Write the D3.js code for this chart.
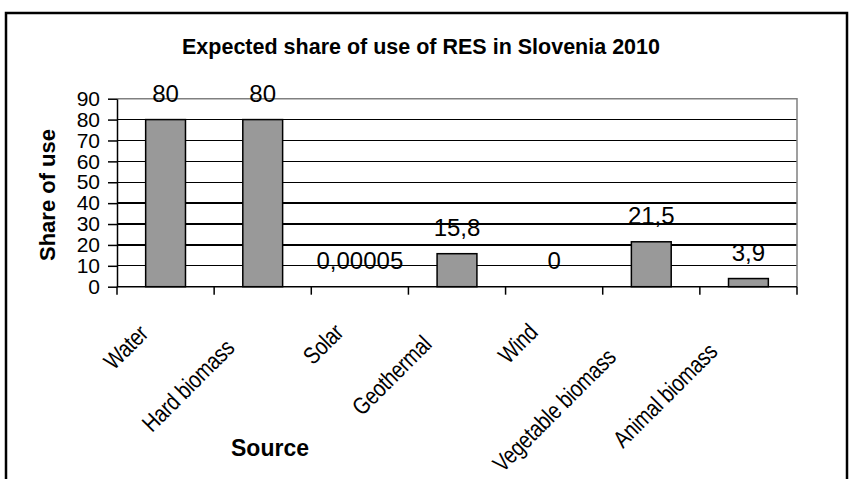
<!DOCTYPE html>
<html>
<head>
<meta charset="utf-8">
<script src="https://cdn.jsdelivr.net/npm/d3@7"></script>
<style>
  html, body { margin: 0; padding: 0; background: #fff; }
  svg { display: block; font-family: "Liberation Sans", Arial, sans-serif; }
</style>
</head>
<body>
<svg id="chart" width="851" height="479"></svg>
<script>
// Expected share of use of renewable energy sources (RES), Slovenia 2010
const categories = ["Water", "Hard biomass", "Solar", "Geothermal", "Wind", "Vegetable biomass", "Animal biomass"];
const shares = [80, 80, 0.00005, 15.8, 0, 21.5, 3.9];
const valueLabels = ["80", "80", "0,00005", "15,8", "0", "21,5", "3,9"];
const yTicks = [0, 10, 20, 30, 40, 50, 60, 70, 80, 90];

const titleText = "Expected share of use of RES in Slovenia 2010";
const yTitle = "Share of use";
const xTitle = "Source";

const svg = d3.select("#chart");

// outer chart frame
svg.append("rect")
  .attr("x", 6).attr("y", 13)
  .attr("width", 841).attr("height", 480)
  .attr("fill", "#fff").attr("stroke", "#000").attr("stroke-width", 2.5);

const plot = { left: 117, right: 797, top: 98.7, bottom: 286.7 };

const x = d3.scaleBand()
  .domain(categories)
  .range([plot.left, plot.right])
  .paddingInner(0.59)
  .paddingOuter(0.295);

const y = d3.scaleLinear()
  .domain([0, 90])
  .range([plot.bottom, plot.top]);

// horizontal gridlines
svg.append("g")
  .selectAll("line")
  .data(yTicks.filter(t => t > 0 && t < 90))
  .join("line")
  .attr("x1", plot.left).attr("x2", plot.right)
  .attr("y1", d => y(d)).attr("y2", d => y(d))
  .attr("stroke", "#000").attr("stroke-width", 1.3)
  .attr("shape-rendering", "crispEdges");

// plot area border (top and right)
svg.append("path")
  .attr("d", `M${plot.left},${y(90)}H${plot.right}V${plot.bottom}`)
  .attr("fill", "none").attr("stroke", "#808080").attr("stroke-width", 1.5);

// bars
svg.append("g")
  .selectAll("rect")
  .data(categories.map((c, i) => ({ c, v: shares[i] })))
  .join("rect")
  .attr("x", d => x(d.c))
  .attr("width", x.bandwidth())
  .attr("y", d => y(d.v))
  .attr("height", d => y(0) - y(d.v))
  .attr("fill", "#999999")
  .attr("stroke", d => d.v > 0.5 ? "#000" : "none")
  .attr("stroke-width", 1.5);

// y axis
const yAxis = svg.append("g")
  .attr("transform", `translate(${plot.left},0)`)
  .call(d3.axisLeft(y).tickValues(yTicks).tickSize(9).tickPadding(8).tickSizeOuter(0));
yAxis.select(".domain").attr("stroke", "#000").attr("stroke-width", 1.5);
yAxis.selectAll(".tick line").attr("stroke", "#000").attr("stroke-width", 1.5);
yAxis.selectAll(".tick text")
  .attr("font-size", 21).attr("fill", "#000")
  .attr("font-family", "Liberation Sans, Arial, sans-serif");

// x axis: tick marks at category boundaries
const xAxis = svg.append("g");
xAxis.append("line")
  .attr("x1", plot.left).attr("x2", plot.right)
  .attr("y1", y(0)).attr("y2", y(0))
  .attr("stroke", "#000").attr("stroke-width", 1.5);
const step = x.step();
const firstEdge = x(categories[0]) - x.paddingOuter() * step;
xAxis.selectAll("line.tick")
  .data(d3.range(categories.length + 1))
  .join("line")
  .attr("class", "tick")
  .attr("x1", i => firstEdge + i * step)
  .attr("x2", i => firstEdge + i * step)
  .attr("y1", y(0)).attr("y2", y(0) + 8)
  .attr("stroke", "#000").attr("stroke-width", 1.5);

// rotated, condensed category labels
const squeeze = 0.82;
const catLabels = svg.append("g")
  .selectAll("text")
  .data(categories)
  .join("text")
  .attr("font-size", 24)
  .attr("letter-spacing", "-0.3px")
  .attr("text-anchor", "end")
  .attr("fill", "#000")
  .text(d => d);
catLabels.each(function (d) {
  const w = this.getComputedTextLength() * squeeze;
  const cx = x(d) + x.bandwidth() / 2 - 8 - 0.16 * w;
  const cy = y(0) + 38 + 0.21 * w;
  d3.select(this).attr("transform", `translate(${cx},${cy}) rotate(-45) scale(${squeeze},1)`);
});

// value labels above bars
svg.append("g")
  .selectAll("text")
  .data(categories.map((c, i) => ({ c, v: shares[i], t: valueLabels[i] })))
  .join("text")
  .attr("x", d => x(d.c) + x.bandwidth() / 2)
  .attr("y", d => y(d.v) - 17.5)
  .attr("text-anchor", "middle")
  .attr("font-size", 24)
  .attr("fill", "#000")
  .text(d => d.t);

// titles
svg.append("text")
  .attr("x", 421).attr("y", 54)
  .attr("text-anchor", "middle")
  .attr("font-size", 21.5).attr("font-weight", "bold")
  .text(titleText);

svg.append("text")
  .attr("transform", "translate(55,195) rotate(-90)")
  .attr("text-anchor", "middle")
  .attr("font-size", 22).attr("font-weight", "bold")
  .text(yTitle);

svg.append("text")
  .attr("x", 270).attr("y", 456)
  .attr("text-anchor", "middle")
  .attr("font-size", 23).attr("font-weight", "bold")
  .text(xTitle);
</script>
</body>
</html>
